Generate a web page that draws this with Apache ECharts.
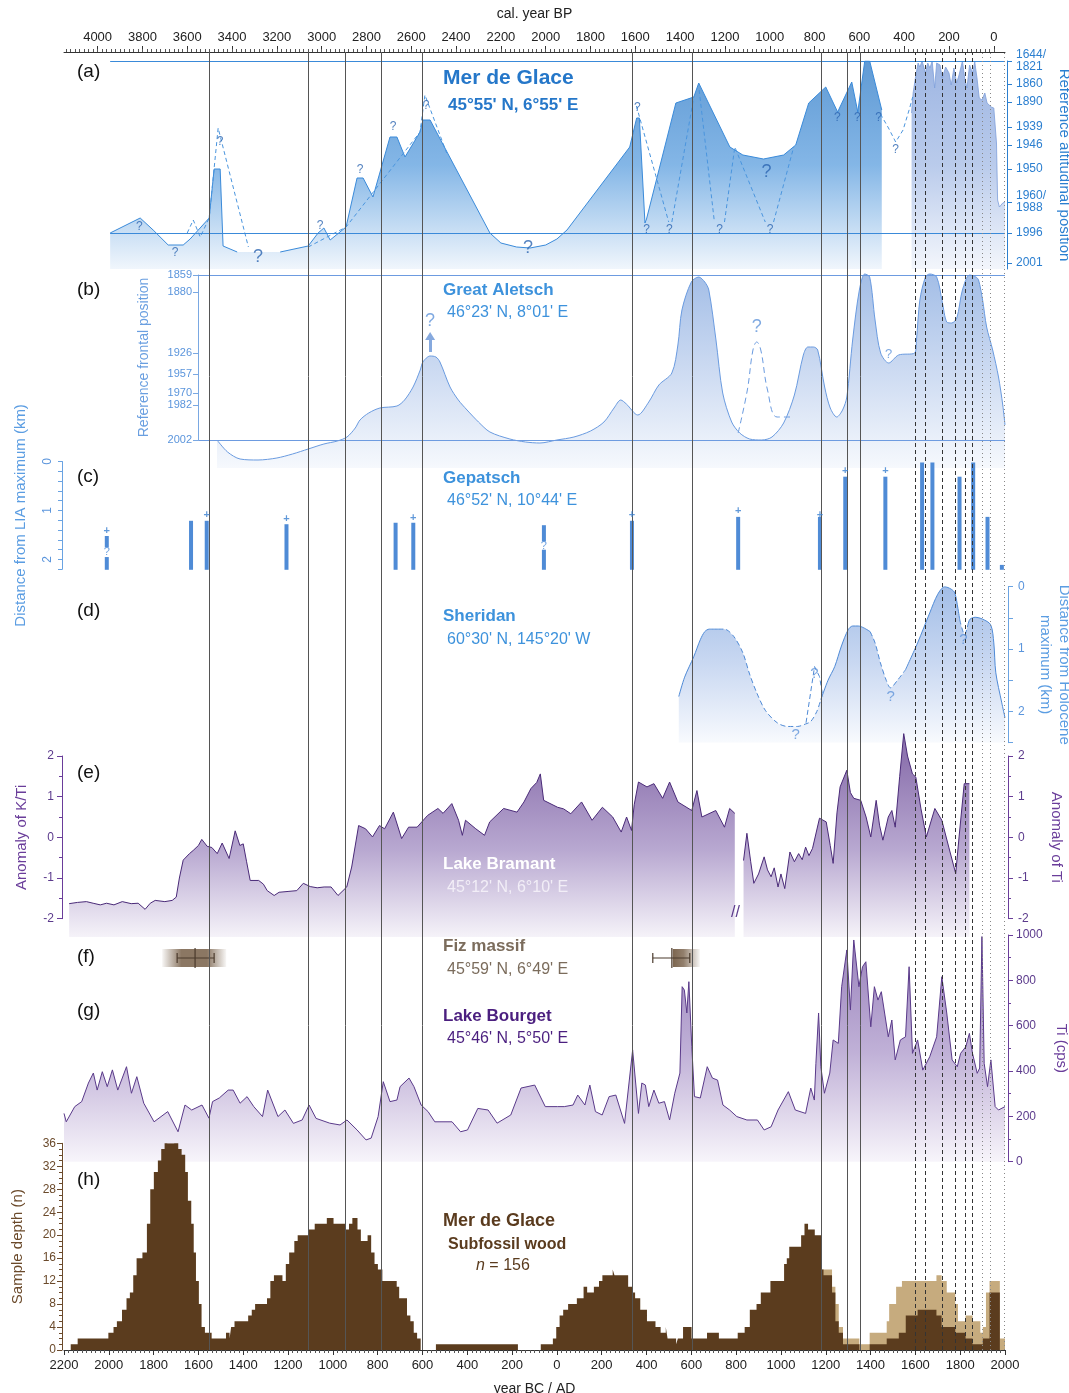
<!DOCTYPE html>
<html>
<head>
<meta charset="utf-8">
<script src="https://cdn.jsdelivr.net/npm/echarts@6/dist/echarts.min.js"></script>
<style>
  html, body { margin: 0; padding: 0; background: #fff; }
  #main { width: 1069px; height: 1393px; }
</style>
</head>
<body>
<div id="main"></div>
<script>
// ---- data (year AD, negative = BC) ----
// vertical reference lines
const solidLines = [-1551, -1110, -945, -782, -603, 337, 606, 1180, 1296, 1354]
const dashedLines = [1600, 1646, 1721, 1779, 1822, 1856]
const dottedLines = [1899, 1935, 1995]

// (a) Mer de Glace, level on the reference altitudinal scale
const mdgTickLevels = [0, 30, 61, 94, 118, 136, 161, 179, 202]
const mdgTickNames = ['2001', '1996', '1960/\n1988', '1950', '1946', '1939', '1890', '1860', '1644/\n1821']
const mdgMain = [[-1994, 30], [-1860, 45], [-1802, 33], [-1735, 18], [-1668, 18], [-1637, 24], [-1552, 45], [-1530, 94],
  [-1503, 94], [-1490, 17], [-1427, 11], [-1330, '-'], [-1235, 11], [-1110, 17], [-1066, 30], [-1040, 35], [-1012, 23],
  [-941, 36], [-892, 85], [-865, 85], [-821, 66], [-745, 126], [-714, 126], [-678, 106], [-611, 131], [-598, 143],
  [-566, 143], [-299, 30], [-250, 20], [-180, 16], [-120, 15], [-50, 18], [0, 24], [45, 33], [325, 116], [356, 145],
  [368, 145], [393, 40], [400, 44], [531, 160], [611, 166], [633, 180], [772, 116], [830, 108], [922, 104], [1012, 108],
  [1066, 118], [1124, 160], [1200, 176], [1253, 151], [1316, 181], [1343, 151], [1374, 202], [1396, 202], [1450, 153]]
const mdgLia = [[1583, 150], [1590, 170], [1600, 185], [1612, 200], [1620, 196], [1630, 202], [1645, 190], [1655, 200],
  [1665, 195], [1675, 202], [1686, 175], [1695, 200], [1710, 198], [1720, 185], [1735, 196], [1750, 190], [1760, 178],
  [1772, 195], [1784, 180], [1795, 188], [1810, 202], [1820, 185], [1830, 175], [1842, 198], [1855, 190], [1865, 201],
  [1875, 185], [1885, 165], [1897, 163], [1910, 170], [1920, 160], [1939, 156], [1950, 155], [1962, 120], [1967, 63],
  [1975, 56], [1990, 60], [2000, 61]]
const mdgDash = [[-1650, 30], [-1623, 43], [-1592, 26], [-1552, 45], [-1512, 135], [-1377, 16], [-1300, '-'],
  [-1110, 16], [-941, 36], [-611, 131], [-589, 168], [-492, 110], [0, '-'],
  [355, 157], [499, 41], [505, '-'], [513, 41], [611, 166], [620, '-'], [635, 173], [703, 41], [720, '-'],
  [748, 41], [794, 116], [930, 41], [950, '-'], [967, 41], [1057, 116], [1200, '-'],
  [1444, 149], [1480, 135], [1512, 121], [1545, 133], [1572, 153], [1588, 166]]
const mdgQ = [[-1864, 36], [-1704, 10], [-1057, 37], [-879, 93], [-731, 136], [-584, 157], [-1503, 121], [359, 155],
  [400, 33], [502, 33], [726, 33], [952, 33], [1252, 145], [1341, 145], [1436, 145], [1512, 113]]
const mdgQBig = [[-1334, 6], [-129, 15], [936, 91]]

// (b) Great Aletsch
const aleTickLevels = [0, 35, 47, 66, 87, 148, 165]
const aleTickNames = ['2002', '1982', '1970', '1957', '1926', '1880', '1859']
const aletsch = [[-1517, 0], [-1470, -12], [-1414, -19], [-1334, -20], [-1250, -18], [-1180, -14], [-1110, -9],
  [-1040, -4], [-980, -1], [-937, 3], [-900, 12], [-879, 20], [-840, 27], [-790, 32], [-714, 34], [-680, 40], [-642, 53],
  [-610, 70], [-598, 78], [-566, 84], [-540, 83], [-522, 78], [-477, 53], [-440, 40], [-401, 30], [-350, 18], [-299, 8],
  [-210, 1], [-140, -2], [-76, -3], [0, 0], [76, 3], [150, 9], [210, 18], [255, 32], [285, 40], [310, 36], [361, 25],
  [410, 38], [455, 55], [513, 67], [540, 95], [558, 130], [600, 158], [633, 163], [660, 158], [678, 150], [710, 100],
  [740, 47], [780, 18], [816, 7], [860, 1], [914, 0], [960, 3], [1012, 17], [1060, 45], [1100, 85], [1120, 93],
  [1145, 93], [1164, 90], [1195, 53], [1220, 32], [1249, 23], [1275, 30], [1294, 43], [1320, 100], [1350, 150],
  [1374, 166], [1396, 163], [1420, 120], [1445, 87], [1481, 77], [1525, 85], [1597, 87], [1605, 100], [1620, 140],
  [1645, 163], [1664, 166], [1695, 163], [1720, 138], [1740, 118], [1762, 117], [1785, 122], [1810, 150], [1842, 165],
  [1870, 163], [1882, 160], [1900, 140], [1918, 113], [1945, 90], [1971, 63], [1990, 35], [2000, 15]]
const aletschDash = [[809, 7], [850, 50], [875, 90], [892, 98], [910, 90], [940, 50], [983, 23], [1044, 23]]
const aleQ = [[-1334, -10], [-120, -12], [892, 113], [-566, 119]]
const aleQSmall = [[1481, 86]]

// (c) Gepatsch: [year, top, bottom] in km from LIA maximum
const gepBars = [[-2009, 1.52, 1.75], [-2009, 1.95, 2.21], [-1633, 1.21, 2.21], [-1563, 1.21, 2.21], [-1207, 1.28, 2.21],
  [-720, 1.25, 2.21], [-641, 1.25, 2.21], [-58, 1.3, 1.63], [-58, 1.8, 2.21], [335, 1.21, 2.21], [809, 1.13, 2.21],
  [1174, 1.13, 2.21], [1287, 0.31, 2.21], [1466, 0.31, 2.21], [1630, 0.02, 2.21], [1676, 0.02, 2.21], [1797, 0.31, 2.21],
  [1858, 0.02, 2.21], [1922, 1.13, 2.21], [1986, 2.11, 2.21]]
const gepPlus = [[-2009, 1.41], [-1563, 1.09], [-1207, 1.17], [-641, 1.16], [335, 1.1], [809, 1.0], [1174, 1.1],
  [1287, 0.19], [1466, 0.19]]
const gepQ = [[-2009, 1.85], [-58, 1.72]]

// (d) Sheridan, km from Holocene maximum
const sheridan = [[544, 1.76], [570, 1.45], [611, 1.12], [640, 0.85], [660, 0.72], [680, 0.68], [720, 0.68], [748, 0.68],
  [790, 0.8], [830, 1.06], [860, 1.4], [892, 1.7], [930, 1.98], [983, 2.18], [1030, 2.24], [1073, 2.24], [1110, 2.2],
  [1133, 2.16], [1160, 2.0], [1178, 1.81], [1210, 1.5], [1240, 1.28], [1270, 0.95], [1300, 0.69], [1320, 0.63],
  [1345, 0.63], [1370, 0.66], [1398, 0.72], [1420, 0.9], [1444, 1.22], [1470, 1.5], [1489, 1.62], [1520, 1.5],
  [1556, 1.33], [1610, 0.9], [1664, 0.42], [1700, 0.12], [1731, 0], [1760, 0.04], [1776, 0.1], [1790, 0.35],
  [1798, 0.53], [1820, 0.77], [1835, 0.6], [1844, 0.52], [1867, 0.49], [1900, 0.52], [1936, 0.61], [1950, 0.9],
  [1959, 1.38], [1985, 1.85], [2000, 2.1]]
const sherSolidRanges = [[544, 720], [1178, 1398], [1556, 1798], [1835, 2012]]
const sherSpike = [[1112, 2.18], [1150, 1.28], [1172, 1.44], [1187, 1.76]]
const sherQ = [[1149, 1.39], [1066, 2.37], [1490, 1.76], [1814, 0.85]]

// (e) Lake Bramant K/Ti anomaly
const bramA = [[-2177, -1.63], [-2140, -1.6], [-2100, -1.58], [-2070, -1.62], [-2038, -1.66], [-2010, -1.62], [-1977, -1.66],
  [-1940, -1.58], [-1900, -1.63], [-1869, -1.62], [-1838, -1.77], [-1815, -1.62], [-1793, -1.55], [-1750, -1.58],
  [-1717, -1.55], [-1699, -1.47], [-1685, -1.0], [-1668, -0.56], [-1640, -0.4], [-1623, -0.32], [-1600, -0.2],
  [-1585, -0.05], [-1561, -0.22], [-1540, -0.25], [-1516, -0.4], [-1494, -0.14], [-1463, -0.52], [-1436, 0.16],
  [-1415, -0.2], [-1400, -0.16], [-1385, -0.6], [-1369, -1.06], [-1331, -1.06], [-1310, -1.15], [-1293, -1.31],
  [-1262, -1.43], [-1240, -1.35], [-1200, -1.33], [-1161, -1.31], [-1132, -1.13], [-1101, -1.21], [-1070, -1.24],
  [-1039, -1.22], [-1008, -1.22], [-977, -1.43], [-938, -1.22], [-916, -0.73], [-885, 0.29], [-854, 0.21], [-823, 0.01],
  [-792, 0.29], [-769, 0.21], [-730, 0.62], [-693, -0.03], [-662, 0.25], [-624, 0.25], [-577, 0.54], [-531, 0.71],
  [-508, 0.59], [-469, 0.83], [-439, 0.42], [-422, 0.05], [-408, 0.42], [-362, 0.21], [-323, 0.05], [-300, 0.38],
  [-238, 0.71], [-178, 0.62], [-147, 0.87], [-116, 1.2], [-90, 1.35], [-74, 1.56], [-59, 0.91], [3, 0.74], [30, 0.7],
  [62, 0.58], [110, 0.87], [157, 0.42], [203, 0.74], [249, 0.5], [287, 0.13], [311, 0.5], [333, 0.17], [345, 0.8],
  [364, 1.36], [402, 1.24], [433, 1.32], [472, 0.96], [503, 1.36], [540, 0.87], [602, 0.66], [625, 1.15], [647, 0.5],
  [709, 0.66], [748, 0.25], [771, 0.71], [794, 0.59]]
const bramB = [[833, -0.57], [848, 0.1], [865, -0.6], [879, -1.13], [900, -0.9], [925, -0.48], [940, -0.8], [956, -0.97],
  [970, -0.75], [987, -1.22], [1000, -0.9], [1017, -1.26], [1040, -0.36], [1060, -0.6], [1079, -0.4], [1095, -0.55],
  [1110, -0.24], [1125, -0.45], [1141, -0.27], [1172, 0.47], [1202, 0.38], [1220, -0.2], [1233, -0.64], [1250, 0.6],
  [1264, 1.24], [1294, 1.65], [1310, 1.1], [1325, 0.96], [1356, 0.91], [1380, 0.5], [1401, 0.01], [1425, 0.91],
  [1440, 0.3], [1455, -0.07], [1479, 0.5], [1495, 0.66], [1510, 0.25], [1530, 1.5], [1548, 2.55], [1565, 2.0],
  [1587, 1.56], [1602, 1.48], [1625, 0.7], [1649, 0.01], [1670, 0.4], [1687, 0.71], [1718, 0.42], [1749, -0.24],
  [1780, -0.89], [1795, 0.01], [1818, 1.32], [1841, 1.32]]

// (f) Fiz massif dates: [centre, low, high, shade low, shade high]
const fizDates = [[-1615, -1695, -1530, -1762, -1476], [513, 428, 593, 517, 638]]

// (g) Lake Bourget Ti (cps)
const bourget = [[-2200, 213], [-2190, 176], [-2152, 243], [-2121, 265], [-2091, 347], [-2069, 391], [-2052, 316],
  [-2029, 397], [-2007, 331], [-1984, 405], [-1960, 316], [-1921, 419], [-1899, 302], [-1875, 375], [-1844, 258],
  [-1798, 176], [-1737, 221], [-1691, 132], [-1660, 250], [-1630, 228], [-1584, 250], [-1553, 192], [-1537, 265],
  [-1507, 281], [-1467, 316], [-1445, 316], [-1414, 258], [-1383, 287], [-1353, 243], [-1314, 199], [-1291, 316],
  [-1245, 199], [-1214, 228], [-1176, 169], [-1137, 184], [-1106, 250], [-1075, 191], [-1014, 170], [-968, 162],
  [-937, 184], [-892, 140], [-852, 96], [-829, 104], [-798, 199], [-775, 353], [-745, 265], [-714, 272], [-700, 331],
  [-660, 369], [-638, 331], [-606, 250], [-575, 221], [-545, 176], [-468, 176], [-430, 132], [-399, 140], [-353, 235],
  [-307, 228], [-267, 170], [-206, 206], [-160, 325], [-99, 338], [-52, 243], [3, 243], [33, 243], [72, 250], [93, 294],
  [125, 250], [147, 338], [172, 221], [202, 206], [233, 287], [263, 294], [302, 169], [338, 493], [364, 213], [379, 347],
  [395, 338], [410, 243], [433, 316], [455, 258], [480, 265], [503, 184], [526, 302], [549, 391], [559, 772], [569, 757],
  [580, 656], [589, 794], [602, 507], [614, 287], [640, 281], [671, 419], [694, 369], [717, 360], [741, 250], [771, 228],
  [803, 199], [848, 184], [895, 184], [925, 140], [956, 154], [987, 228], [1033, 309], [1064, 228], [1110, 213],
  [1133, 325], [1149, 272], [1156, 434], [1168, 656], [1178, 419], [1194, 302], [1218, 391], [1233, 537], [1256, 522],
  [1271, 772], [1294, 934], [1310, 669], [1325, 978], [1348, 772], [1364, 860], [1379, 882], [1401, 595], [1417, 772],
  [1433, 713], [1448, 750], [1479, 551], [1495, 625], [1510, 449], [1533, 537], [1556, 551], [1572, 860], [1587, 478],
  [1610, 537], [1633, 404], [1664, 463], [1695, 551], [1718, 816], [1740, 656], [1764, 449], [1787, 419], [1802, 478],
  [1825, 507], [1841, 566], [1855, 478], [1876, 390], [1887, 413], [1897, 993], [1907, 434], [1922, 331], [1937, 449],
  [1956, 243], [1971, 228], [2000, 243]]

// (h) subfossil wood sample depth, [start year, n]
const woodBrown = [[-2170, 1], [-2139, 2], [-2002, 3], [-1979, 4], [-1964, 5], [-1941, 7], [-1921, 9], [-1906, 10],
  [-1891, 13], [-1876, 16], [-1850, 17], [-1830, 22], [-1815, 28], [-1799, 31], [-1781, 33], [-1766, 35], [-1751, 37],
  [-1739, 36], [-1708, 37], [-1690, 35], [-1675, 34], [-1659, 31], [-1647, 26], [-1632, 22], [-1621, 17], [-1611, 12],
  [-1598, 8], [-1586, 4], [-1571, 3], [-1541, 2], [-1477, 3], [-1461, 2], [-1454, 4], [-1439, 5], [-1378, 6],
  [-1362, 7], [-1347, 8], [-1294, 9], [-1279, 12], [-1263, 13], [-1225, 12], [-1210, 15], [-1195, 17], [-1172, 19],
  [-1157, 20], [-1111, 21], [-1081, 22], [-1027, 23], [-997, 22], [-944, 21], [-928, 22], [-913, 23], [-890, 21],
  [-875, 19], [-845, 20], [-829, 17], [-814, 15], [-799, 14], [-779, 12], [-715, 11], [-704, 9], [-669, 6], [-654, 5],
  [-639, 3], [-624, 2], [-608, 0], [-540, 1], [-174, 0], [-72, 1], [-18, 2], [-3, 4], [12, 6], [28, 7], [50, 8], [89, 9],
  [119, 11], [135, 10], [165, 11], [188, 12], [203, 13], [249, 14], [257, 13], [318, 11], [336, 10], [349, 9], [372, 7],
  [402, 5], [440, 4], [463, 3], [486, 4], [494, 2], [532, 1], [540, 2], [563, 4], [601, 2], [670, 3], [723, 2], [807, 3],
  [838, 4], [861, 7], [891, 8], [910, 10], [953, 12], [1014, 15], [1026, 16], [1037, 18], [1090, 20], [1105, 22],
  [1121, 21], [1151, 20], [1179, 14], [1190, 13], [1228, 10], [1243, 5], [1258, 3], [1277, 1], [1350, 0], [1396, 1],
  [1472, 2], [1526, 3], [1557, 6], [1610, 7], [1694, 6], [1717, 4], [1778, 3], [1824, 2], [1855, 1], [1901, 2],
  [1931, 10], [1977, 0], [2000, 0]]
const woodTan = [[1179, 14], [1228, 11], [1243, 8], [1258, 4], [1277, 2], [1350, 1], [1396, 3], [1472, 5], [1483, 8],
  [1514, 11], [1540, 12], [1694, 13], [1717, 12], [1740, 10], [1778, 8], [1790, 5], [1824, 6], [1855, 5], [1890, 3],
  [1901, 4], [1915, 10], [1931, 12], [1977, 2], [2000, 0]]

// ---- helpers ----
const FONT = '"Liberation Sans", Arial, sans-serif'
const inRanges = (x, ranges, strict) => ranges.some(r => strict ? (x > r[0] && x < r[1]) : (x >= r[0] && x <= r[1]))
const sherSolid = sheridan.map(p => inRanges(p[0], sherSolidRanges, false) ? p : [p[0], '-'])
const sherDash = sheridan.map(p => inRanges(p[0], sherSolidRanges, true) ? [p[0], '-'] : p)
const grad = (stops, global, y0, y1) => new echarts.graphic.LinearGradient(0, global ? y0 : 0, 0, global ? y1 : 1,
  stops.map((c, i) => ({ offset: i / (stops.length - 1), color: c })), !!global)

// top axis in cal. year BP: positions as AD years
let bpMajor = []
let bpMinor = []
for (let bp = 0; bp <= 4140; bp += 20) {
  if (bp % 200 === 0 && bp <= 4000) bpMajor.push(1950 - bp)
  bpMinor.push(1950 - bp)
}

const qSeries = (xi, yi, data, color, size) => ({
  type: 'scatter', xAxisIndex: xi, yAxisIndex: yi, data: data, symbolSize: 1, z: 6,
  itemStyle: { color: 'rgba(0,0,0,0)' },
  label: { show: true, position: 'inside', formatter: '?', color: color, fontSize: size, fontFamily: FONT }
})

const vline = (years, color, type) => ({
  type: 'line', xAxisIndex: 0, yAxisIndex: 0, data: [], z: 8,
  markLine: {
    silent: true, symbol: ['none', 'none'], label: { show: false },
    lineStyle: { color: color, width: 1, type: type },
    data: years.map(v => ({ xAxis: v }))
  }
})

const hx = i => ({ gridIndex: i, type: 'value', min: -2200, max: 2000, show: false })
const line0 = c => ({ show: true, onZero: false, lineStyle: { color: c } })

// grid layout: index 0 = background with both year axes; all share the same x extent
const L = 64, R = 64
const grids = [
  { top: 52, height: 1298 },        // 0 background
  { top: 61, height: 208 },         // 1 (a)
  { top: 275, height: 165 },        // 2 (b)
  { top: 461.5, height: 107.8 },    // 3 (c)
  { top: 586.7, height: 156 },      // 4 (d)
  { top: 756, height: 162.7 },      // 5 (e)
  { top: 945, height: 26 },         // 6 (f)
  { top: 935, height: 226.7 },      // 7 (g)
  { top: 1143.3, height: 206.7 }    // 8 (h)
].map(g => Object.assign({ left: L, right: R, containLabel: false, outerBoundsMode: 'none' }, g))

const blueA = '#2b7fd0', purple = '#5b3a8c', brown = '#6b4a2b'

const option = {
  animation: false,
  backgroundColor: '#fff',
  textStyle: { fontFamily: FONT },
  grid: grids,
  xAxis: [
    {
      gridIndex: 0, type: 'value', min: -2200, max: 2000, interval: 200, position: 'bottom',
      axisLine: line0('#333'),
      axisTick: { length: 5, lineStyle: { color: '#333' } },
      minorTick: { show: true, splitNumber: 10, length: 3, lineStyle: { color: '#555' } },
      splitLine: { show: false },
      axisLabel: { formatter: v => Math.abs(v), color: '#222', fontSize: 13, margin: 9 },
      name: 'year BC / AD', nameLocation: 'middle', nameGap: 32,
      nameTextStyle: { color: '#222', fontSize: 14 }
    },
    {
      gridIndex: 0, type: 'value', min: -2200, max: 2000, position: 'top',
      axisLine: line0('#333'),
      axisTick: { customValues: bpMajor, length: 6, lineStyle: { color: '#333' } },
      splitLine: { show: false },
      axisLabel: { customValues: bpMajor, formatter: v => 1950 - v, color: '#222', fontSize: 13, margin: 8 },
      name: 'cal. year BP', nameLocation: 'middle', nameGap: 31,
      nameTextStyle: { color: '#222', fontSize: 14 }
    },
    {
      gridIndex: 0, type: 'value', min: -2200, max: 2000, position: 'top',
      axisLine: { show: false, onZero: false },
      axisTick: { customValues: bpMinor, length: 3, lineStyle: { color: '#555' } },
      axisLabel: { show: false }, splitLine: { show: false }
    },
    hx(1), hx(2), hx(3), hx(4), hx(5), hx(6), hx(7), hx(8)
  ],
  yAxis: [
    { gridIndex: 0, min: 0, max: 1, show: false },
    { // 1 (a)
      gridIndex: 1, type: 'value', min: -6, max: 202, position: 'right', offset: 2,
      axisLine: line0(blueA),
      axisTick: { show: true, customValues: mdgTickLevels, length: 5, lineStyle: { color: blueA } },
      axisLabel: { customValues: mdgTickLevels, formatter: v => mdgTickNames[mdgTickLevels.indexOf(v)],
        color: blueA, fontSize: 12, lineHeight: 12, margin: 9 },
      splitLine: { show: false },
      name: 'Reference altitudinal position', nameLocation: 'middle', nameRotate: -90, nameGap: 42,
      nameTextStyle: { color: blueA, fontSize: 15 }
    },
    { // 2 (b)
      gridIndex: 2, type: 'value', min: 0, max: 165, position: 'left', offset: -134,
      axisLine: line0('#7aa8e2'),
      axisTick: { show: true, customValues: aleTickLevels, length: 5, lineStyle: { color: '#7aa8e2' } },
      axisLabel: { customValues: aleTickLevels, formatter: v => aleTickNames[aleTickLevels.indexOf(v)],
        color: '#5b95dc', fontSize: 11, margin: 6 },
      splitLine: { show: false },
      name: 'Reference frontal position', nameLocation: 'middle', nameRotate: 90, nameGap: 47,
      nameTextStyle: { color: '#6a9fe0', fontSize: 14 }
    },
    { // 3 (c)
      gridIndex: 3, type: 'value', min: 0, max: 2.2, inverse: true, position: 'left', offset: 2,
      axisLine: line0('#6aa3e2'),
      axisTick: { show: true, customValues: [0, 0.2, 0.4, 0.6, 0.8, 1, 1.2, 1.4, 1.6, 1.8, 2, 2.2], length: 4,
        lineStyle: { color: '#6aa3e2' } },
      axisLabel: { customValues: [0, 1, 2], rotate: 90, color: '#5b95dc', fontSize: 12, margin: 8 },
      splitLine: { show: false },
      name: 'Distance from LIA maximum (km)', nameLocation: 'middle', nameRotate: 90, nameGap: 34,
      nameTextStyle: { color: '#5b9de2', fontSize: 15 }
    },
    { // 4 (d)
      gridIndex: 4, type: 'value', min: 0, max: 2.5, inverse: true, position: 'right', offset: 3,
      axisLine: line0('#6aa3e2'),
      axisTick: { show: true, customValues: [0, 0.5, 1, 1.5, 2, 2.5], length: 5, lineStyle: { color: '#6aa3e2' } },
      axisLabel: { customValues: [0, 1, 2], color: '#5b95dc', fontSize: 12, margin: 10 },
      splitLine: { show: false },
      name: 'Distance from Holocene\nmaximum (km)', nameLocation: 'middle', nameRotate: -90, nameGap: 20,
      nameTextStyle: { color: '#5b9de2', fontSize: 15, lineHeight: 19 }
    },
    { // 5 (e) left
      gridIndex: 5, type: 'value', min: -2, max: 2, interval: 1, position: 'left', offset: 2,
      axisLine: line0('#6a3d9a'),
      axisTick: { length: 5, lineStyle: { color: '#6a3d9a' } },
      minorTick: { show: true, splitNumber: 2, length: 3, lineStyle: { color: '#6a3d9a' } },
      axisLabel: { color: purple, fontSize: 12, margin: 8 },
      splitLine: { show: false },
      name: 'Anomaly of K/Ti', nameLocation: 'middle', nameRotate: 90, nameGap: 33,
      nameTextStyle: { color: '#6a3d9a', fontSize: 15 }
    },
    { // 6 (e) right
      gridIndex: 5, type: 'value', min: -2, max: 2, interval: 1, position: 'right', offset: 3,
      axisLine: line0('#6a3d9a'),
      axisTick: { length: 5, lineStyle: { color: '#6a3d9a' } },
      minorTick: { show: true, splitNumber: 2, length: 3, lineStyle: { color: '#6a3d9a' } },
      axisLabel: { color: purple, fontSize: 12, margin: 10 },
      splitLine: { show: false },
      name: 'Anomaly of Ti', nameLocation: 'middle', nameRotate: -90, nameGap: 41,
      nameTextStyle: { color: '#6a3d9a', fontSize: 15 }
    },
    { gridIndex: 6, min: 0, max: 1, show: false },
    { // 8 (g)
      gridIndex: 7, type: 'value', min: 0, max: 1000, interval: 200, position: 'right', offset: 3,
      axisLine: line0('#6a3d9a'),
      axisTick: { length: 5, lineStyle: { color: '#6a3d9a' } },
      minorTick: { show: true, splitNumber: 2, length: 3, lineStyle: { color: '#6a3d9a' } },
      axisLabel: { color: purple, fontSize: 12, margin: 8, formatter: v => String(v) },
      splitLine: { show: false },
      name: 'Ti (cps)', nameLocation: 'middle', nameRotate: -90, nameGap: 43,
      nameTextStyle: { color: '#6a3d9a', fontSize: 15 }
    },
    { // 9 (h)
      gridIndex: 8, type: 'value', min: 0, max: 36, interval: 4, position: 'left', offset: 2,
      axisLine: line0(brown),
      axisTick: { length: 5, lineStyle: { color: brown } },
      minorTick: { show: true, splitNumber: 4, length: 3, lineStyle: { color: brown } },
      axisLabel: { color: brown, fontSize: 12, margin: 6 },
      splitLine: { show: false },
      name: 'Sample depth (n)', nameLocation: 'middle', nameRotate: 90, nameGap: 37,
      nameTextStyle: { color: brown, fontSize: 15 }
    }
  ],
  series: [
    // (a) Mer de Glace: fill bridges the gap, outline keeps it
    {
      type: 'line', xAxisIndex: 3, yAxisIndex: 1, data: mdgMain, symbol: 'none', connectNulls: true, z: 2,
      lineStyle: { width: 0 },
      areaStyle: { origin: 'start', color: grad(['#1c6fc2', '#4f97dc', '#eaf2fb']) }
    },
    {
      type: 'line', xAxisIndex: 3, yAxisIndex: 1, data: mdgMain, symbol: 'none', z: 3,
      lineStyle: { color: '#3a8ad9', width: 1 },
      markLine: {
        silent: true, symbol: ['none', 'none'], label: { show: false },
        lineStyle: { color: '#3a8ad9', width: 1.2, type: 'solid' },
        data: [[{ coord: [-1994, 202] }, { coord: [2000, 202] }], [{ coord: [-1994, 30] }, { coord: [2000, 30] }]]
      }
    },
    {
      type: 'line', xAxisIndex: 3, yAxisIndex: 1, data: mdgLia, symbol: 'none', z: 3,
      lineStyle: { color: '#7d9edb', width: 0.8 },
      areaStyle: { origin: 'start', color: grad(['#7496d6', '#9cb5e3', '#eef2fa']) }
    },
    {
      type: 'line', xAxisIndex: 3, yAxisIndex: 1, data: mdgDash, symbol: 'none', z: 4,
      lineStyle: { color: '#4a95de', width: 1, type: [4, 3] }
    },
    qSeries(3, 1, mdgQ, '#2a64b0', 12),
    qSeries(3, 1, mdgQBig, '#2a64b0', 18),

    // (b) Great Aletsch
    {
      type: 'line', xAxisIndex: 4, yAxisIndex: 2, data: aletsch, symbol: 'none', smooth: 0.3, clip: false, z: 3,
      lineStyle: { color: '#6a9be0', width: 1 },
      areaStyle: { origin: -28, color: grad(['#7ca2dc', '#b7cbec', '#f2f6fc']) },
      markLine: {
        silent: true, symbol: ['none', 'none'], label: { show: false },
        lineStyle: { color: '#6d9be0', width: 1.2, type: 'solid' },
        data: [[{ coord: [-1601, 165] }, { coord: [2000, 165] }], [{ coord: [-1601, 0] }, { coord: [2000, 0] }]]
      }
    },
    {
      type: 'line', xAxisIndex: 4, yAxisIndex: 2, data: aletschDash, symbol: 'none', smooth: 0.4, z: 4,
      lineStyle: { color: '#6a9be0', width: 1, type: [6, 4] }
    },
    {
      type: 'line', xAxisIndex: 4, yAxisIndex: 2, data: [], z: 4,
      markLine: {
        silent: true, symbol: ['none', 'triangle'], symbolSize: [10, 8], label: { show: false },
        lineStyle: { color: '#86a9de', width: 3, type: 'solid' },
        data: [[{ coord: [-566, 88] }, { coord: [-566, 104] }]]
      }
    },
    qSeries(4, 2, aleQ, '#5f93da', 18),
    qSeries(4, 2, aleQSmall, '#5f93da', 13),

    // (c) Gepatsch
    {
      type: 'custom', xAxisIndex: 5, yAxisIndex: 3, data: gepBars, z: 4,
      renderItem: (params, api) => {
        const p1 = api.coord([api.value(0), api.value(1)])
        const p2 = api.coord([api.value(0), api.value(2)])
        return { type: 'rect', shape: { x: p1[0] - 2, y: p1[1], width: 4, height: p2[1] - p1[1] },
          style: { fill: '#4f8bd6' } }
      },
      encode: { x: 0, y: [1, 2] }
    },
    {
      type: 'scatter', xAxisIndex: 5, yAxisIndex: 3, data: gepPlus, symbolSize: 1, z: 5,
      itemStyle: { color: 'rgba(0,0,0,0)' },
      label: { show: true, position: 'inside', formatter: '+', color: '#3a7fd0', fontSize: 11, fontWeight: 'bold' }
    },
    qSeries(5, 3, gepQ, '#4a8ad8', 11),

    // (d) Sheridan
    {
      type: 'line', xAxisIndex: 6, yAxisIndex: 4, data: sheridan, symbol: 'none', smooth: 0.3, z: 2,
      lineStyle: { width: 0 },
      areaStyle: { origin: 'end', color: grad(['#7ba2dd', '#b3c8ec', '#f5f8fd']) }
    },
    {
      type: 'line', xAxisIndex: 6, yAxisIndex: 4, data: sherSolid, symbol: 'none', smooth: 0.3, z: 3,
      lineStyle: { color: '#4f8ad6', width: 1 }
    },
    {
      type: 'line', xAxisIndex: 6, yAxisIndex: 4, data: sherDash, symbol: 'none', smooth: 0.3, z: 3,
      lineStyle: { color: '#4f8ad6', width: 1, type: [5, 3] }
    },
    {
      type: 'line', xAxisIndex: 6, yAxisIndex: 4, data: sherSpike, symbol: 'none', z: 3,
      lineStyle: { color: '#4f8ad6', width: 1, type: [5, 3] }
    },
    qSeries(6, 4, sherQ, '#5f93da', 15),

    // (e) Lake Bramant
    {
      type: 'line', xAxisIndex: 7, yAxisIndex: 5, data: bramA, symbol: 'none', clip: false, z: 3,
      lineStyle: { color: '#4a2a78', width: 1 },
      areaStyle: { origin: -2.45, color: grad(['#5e3a8e', '#9a83bd', '#f4f1f8'], true, 760, 940) }
    },
    {
      type: 'line', xAxisIndex: 7, yAxisIndex: 5, data: bramB, symbol: 'none', clip: false, z: 3,
      lineStyle: { color: '#4a2a78', width: 1 },
      areaStyle: { origin: -2.45, color: grad(['#5e3a8e', '#9a83bd', '#f4f1f8'], true, 760, 940) }
    },

    // (f) Fiz massif
    {
      type: 'custom', xAxisIndex: 8, yAxisIndex: 7, data: fizDates, z: 4,
      renderItem: (params, api) => {
        const c = api.coord([api.value(0), 0.5])
        const lo = api.coord([api.value(1), 0.5])
        const hi = api.coord([api.value(2), 0.5])
        const s0 = api.coord([api.value(3), 0.5])
        const s1 = api.coord([api.value(4), 0.5])
        const ink = '#4a3a2c'
        const shade = params.dataIndex === 0
          ? [{ offset: 0, color: 'rgba(110,85,60,0.05)' }, { offset: 0.3, color: 'rgba(110,85,60,0.8)' },
             { offset: 0.7, color: 'rgba(110,85,60,0.8)' }, { offset: 1, color: 'rgba(110,85,60,0.05)' }]
          : [{ offset: 0, color: 'rgba(110,85,60,0.9)' }, { offset: 0.4, color: 'rgba(110,85,60,0.75)' },
             { offset: 1, color: 'rgba(110,85,60,0.05)' }]
        return {
          type: 'group', children: [
            { type: 'rect', shape: { x: s0[0], y: c[1] - 9, width: s1[0] - s0[0], height: 18 },
              style: { fill: new echarts.graphic.LinearGradient(0, 0, 1, 0, shade) } },
            { type: 'line', shape: { x1: lo[0], y1: c[1], x2: hi[0], y2: c[1] }, style: { stroke: ink, lineWidth: 1.2 } },
            { type: 'line', shape: { x1: lo[0], y1: c[1] - 5, x2: lo[0], y2: c[1] + 5 }, style: { stroke: ink, lineWidth: 1.2 } },
            { type: 'line', shape: { x1: hi[0], y1: c[1] - 5, x2: hi[0], y2: c[1] + 5 }, style: { stroke: ink, lineWidth: 1.2 } },
            { type: 'line', shape: { x1: c[0], y1: c[1] - 10, x2: c[0], y2: c[1] + 10 }, style: { stroke: ink, lineWidth: 1.2 } }
          ]
        }
      }
    },

    // (g) Lake Bourget
    {
      type: 'line', xAxisIndex: 9, yAxisIndex: 8, data: bourget, symbol: 'none', z: 3,
      lineStyle: { color: '#5a3a8a', width: 1 },
      areaStyle: { origin: 'start', color: grad(['#6f4e9f', '#a58fc6', '#f6f3fa'], true, 940, 1165) }
    },

    // (h) subfossil wood
    {
      type: 'line', xAxisIndex: 10, yAxisIndex: 9, data: woodTan, symbol: 'none', step: 'end', z: 2,
      lineStyle: { width: 0 }, areaStyle: { color: '#c6ab7e', opacity: 1 }
    },
    {
      type: 'line', xAxisIndex: 10, yAxisIndex: 9, data: woodBrown, symbol: 'none', step: 'end', z: 3,
      lineStyle: { width: 0 }, areaStyle: { color: '#5b3c1e', opacity: 1 }
    },

    // reference lines through all panels
    vline(solidLines, '#555', 'solid'),
    vline(dashedLines, '#333', [4, 3]),
    vline(dottedLines, '#888', [1, 3])
  ],
  graphic: [
    ['(a)', 72], ['(b)', 290], ['(c)', 477], ['(d)', 611], ['(e)', 773], ['(f)', 957], ['(g)', 1011], ['(h)', 1180]
  ].map(d => ({
    type: 'text', x: 77, y: d[1], z: 20,
    style: { text: d[0], fill: '#111', font: '19px ' + FONT, textVerticalAlign: 'middle' }
  })).concat([
    ['Mer de Glace', 443, 78, 'bold 21px', '#2577c9'],
    ["45°55' N, 6°55' E", 448, 105, 'bold 17px', '#2577c9'],
    ['Great Aletsch', 443, 290, 'bold 17px', '#3d92dc'],
    ["46°23' N, 8°01' E", 447, 313, '16px', '#3d92dc'],
    ['Gepatsch', 443, 478, 'bold 17px', '#3d92dc'],
    ["46°52' N, 10°44' E", 447, 501, '16px', '#3d92dc'],
    ['Sheridan', 443, 616, 'bold 17px', '#3d92dc'],
    ["60°30' N, 145°20' W", 447, 640, '16px', '#3d92dc'],
    ['Lake Bramant', 443, 864, 'bold 17px', '#ffffff'],
    ["45°12' N, 6°10' E", 447, 888, '16px', '#f2eef7'],
    ['Fiz massif', 443, 946, 'bold 17px', '#7b6c5c'],
    ["45°59' N, 6°49' E", 447, 970, '16px', '#7b6c5c'],
    ['Lake Bourget', 443, 1016, 'bold 17px', '#4b1f7f'],
    ["45°46' N, 5°50' E", 447, 1039, '16px', '#4b1f7f'],
    ['Mer de Glace', 443, 1221, 'bold 18px', '#5a3b1e'],
    ['Subfossil wood', 448, 1245, 'bold 16px', '#5a3b1e'],
    ['//', 731, 913, '16px', '#5b3a8c']
  ].map(d => ({
    type: 'text', x: d[1], y: d[2], z: 20,
    style: { text: d[0], fill: d[4], font: d[3] + ' ' + FONT, textVerticalAlign: 'middle' }
  }))).concat([{
    type: 'text', x: 476, y: 1266, z: 20,
    style: {
      text: '{i|n} = 156', fill: '#5a3b1e', font: '16px ' + FONT, textVerticalAlign: 'middle',
      rich: { i: { fontStyle: 'italic', fontSize: 16, fontFamily: FONT, fill: '#5a3b1e' } }
    }
  }])
}

const chart = echarts.init(document.getElementById('main'), null, { renderer: 'canvas' })
chart.setOption(option)
</script>
</body>
</html>
